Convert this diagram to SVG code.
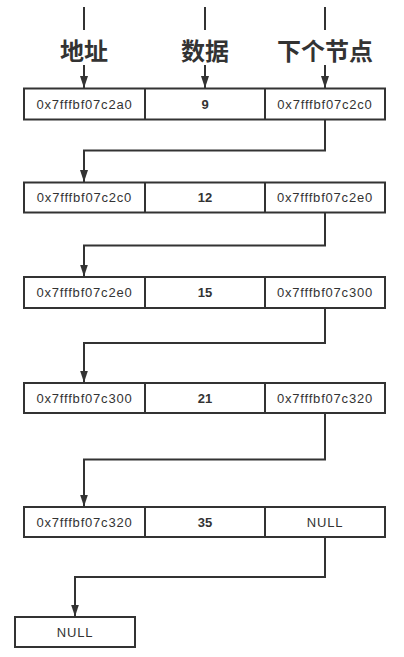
<svg xmlns="http://www.w3.org/2000/svg" width="404" height="657" viewBox="0 0 404 657">
<style>
.box{fill:#fff;stroke:#333;stroke-width:2}
.div{stroke:#333;stroke-width:2}
.hex{font-family:"Liberation Sans",Arial,sans-serif;font-size:13px;fill:#333;letter-spacing:0.8px;text-anchor:middle}
.num{font-family:"Liberation Sans",Arial,sans-serif;font-size:13px;font-weight:bold;fill:#333;text-anchor:middle}
.hdr{font-family:"Noto Sans CJK SC","Noto Sans",sans-serif;font-size:24px;font-weight:bold;fill:#333;text-anchor:middle}
.ln{fill:none;stroke:#333;stroke-width:2}
</style>
<defs>
<marker id="ah" viewBox="0 0 12 10" refX="12" refY="5" markerWidth="12" markerHeight="10" markerUnits="userSpaceOnUse" orient="auto">
<path d="M0,1 L12,5 L0,9 Z" fill="#333"/>
</marker>
</defs>
<rect width="404" height="657" fill="#fff"/>
<g id="headers">
<line class="ln" x1="84" y1="7" x2="84" y2="30"/>
<line class="ln" x1="205" y1="7" x2="205" y2="30"/>
<line class="ln" x1="325" y1="7" x2="325" y2="30"/>
<text class="hdr" x="84" y="60">地址</text>
<text class="hdr" x="205" y="60">数据</text>
<text class="hdr" x="325" y="60">下个节点</text>
</g>
<g id="node1">
<rect class="box" x="24" y="88.5" width="361" height="31"/>
<line class="div" x1="145" y1="88.5" x2="145" y2="119.5"/>
<line class="div" x1="265" y1="88.5" x2="265" y2="119.5"/>
<text class="hex" x="84.5" y="108.5">0x7fffbf07c2a0</text>
<text class="num" x="205" y="108.5">9</text>
<text class="hex" x="325" y="108.5">0x7fffbf07c2c0</text>
</g>
<g id="node2">
<rect class="box" x="24" y="182.5" width="361" height="30"/>
<line class="div" x1="145" y1="182.5" x2="145" y2="212.5"/>
<line class="div" x1="265" y1="182.5" x2="265" y2="212.5"/>
<text class="hex" x="84.5" y="202">0x7fffbf07c2c0</text>
<text class="num" x="205" y="202">12</text>
<text class="hex" x="325" y="202">0x7fffbf07c2e0</text>
</g>
<g id="node3">
<rect class="box" x="24" y="277" width="361" height="31"/>
<line class="div" x1="145" y1="277" x2="145" y2="308"/>
<line class="div" x1="265" y1="277" x2="265" y2="308"/>
<text class="hex" x="84.5" y="297">0x7fffbf07c2e0</text>
<text class="num" x="205" y="297">15</text>
<text class="hex" x="325" y="297">0x7fffbf07c300</text>
</g>
<g id="node4">
<rect class="box" x="24" y="383" width="361" height="30"/>
<line class="div" x1="145" y1="383" x2="145" y2="413"/>
<line class="div" x1="265" y1="383" x2="265" y2="413"/>
<text class="hex" x="84.5" y="402.5">0x7fffbf07c300</text>
<text class="num" x="205" y="402.5">21</text>
<text class="hex" x="325" y="402.5">0x7fffbf07c320</text>
</g>
<g id="node5">
<rect class="box" x="24" y="507" width="361" height="30"/>
<line class="div" x1="145" y1="507" x2="145" y2="537"/>
<line class="div" x1="265" y1="507" x2="265" y2="537"/>
<text class="hex" x="84.5" y="526.5">0x7fffbf07c320</text>
<text class="num" x="205" y="526.5">35</text>
<text class="hex" x="325" y="526.5">NULL</text>
</g>
<g id="nullnode">
<rect class="box" x="15" y="617" width="120" height="30"/>
<text class="hex" x="75" y="636.5">NULL</text>
</g>
<g id="connectors">
<line class="ln" x1="84" y1="65" x2="84" y2="88" marker-end="url(#ah)"/>
<line class="ln" x1="205" y1="65" x2="205" y2="88" marker-end="url(#ah)"/>
<line class="ln" x1="325" y1="65" x2="325" y2="88" marker-end="url(#ah)"/>
<path class="ln" d="M325,119.5 V150.5 H84 V182" marker-end="url(#ah)"/>
<path class="ln" d="M325,212.5 V245.5 H84 V276.5" marker-end="url(#ah)"/>
<path class="ln" d="M325,308 V343 H84 V382.5" marker-end="url(#ah)"/>
<path class="ln" d="M325,413 V459.5 H84 V506.5" marker-end="url(#ah)"/>
<path class="ln" d="M325,537 V577 H75 V616.5" marker-end="url(#ah)"/>
</g>
</svg>
